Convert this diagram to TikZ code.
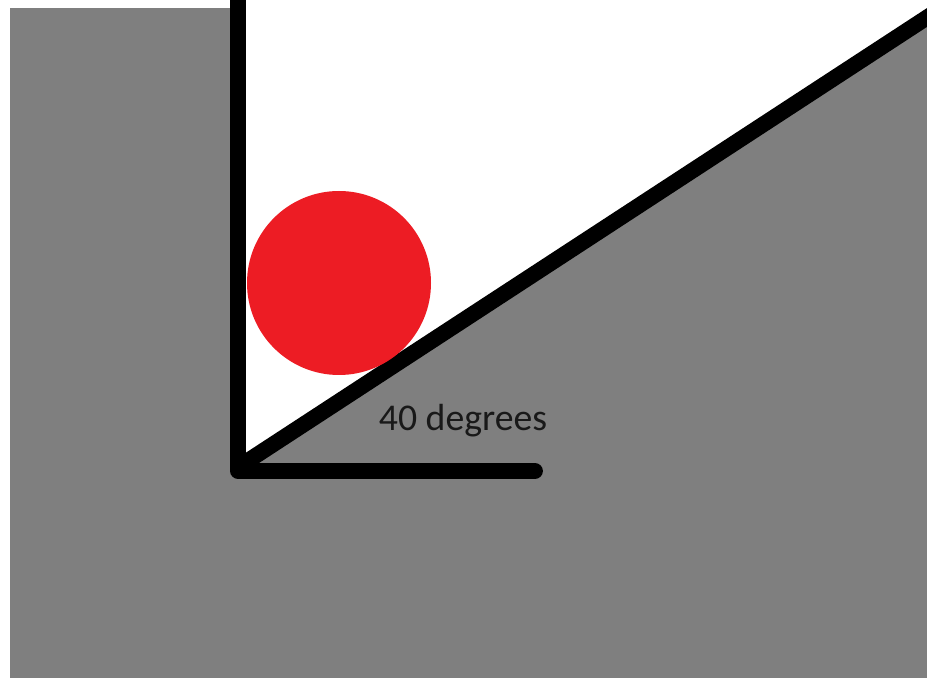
\documentclass[tikz,border=0pt]{standalone}
\usepackage{fontspec}
\setmainfont{Carlito}
\begin{document}
\begin{tikzpicture}[x=0.02cm, y=-0.02cm]
    \definecolor{wallgray}{RGB}{127,127,127}
    \definecolor{ballred}{RGB}{237,28,36}
    \useasboundingbox (0,0) rectangle (927,678);
    \fill[white] (0,0) rectangle (927,678);
    \fill[wallgray] (10,8) rectangle (927,678);
    % Open space above the ramp
    \fill[white] (238,-5) -- (238,468) -- (940,10) -- (940,-5) -- cycle;
    \coordinate (corner) at (238,471);
    \coordinate (walltop) at (238,-10);
    \coordinate (floorend) at (535,471);
    \coordinate (ramptop) at (940,9);
    % Wall and floor
    \draw[line width=9pt, line join=round, line cap=round] (walltop) -- (corner) -- (floorend);
    % Ramp
    \draw[line width=9pt, line cap=round] (240,466) -- (ramptop);
    % Ball
    \fill[ballred] (339,283) circle (92);
    \node[text=black!90, font=\fontsize{21.5pt}{24pt}\selectfont] (angle) at (463,421) {40 degrees};
\end{tikzpicture}
\end{document}
